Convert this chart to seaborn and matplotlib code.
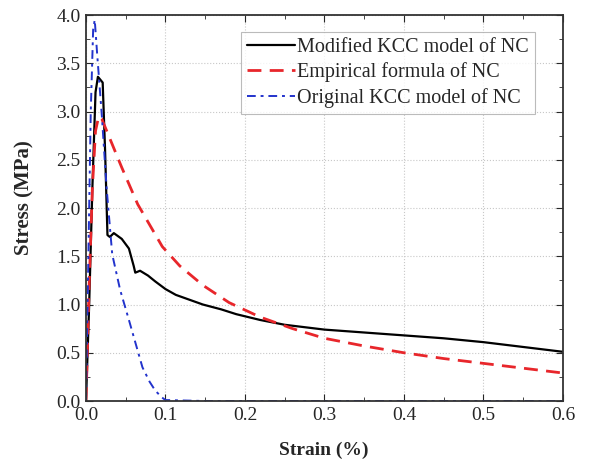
import matplotlib
matplotlib.use("Agg")
import matplotlib.pyplot as plt
import seaborn as sns
import pandas as pd
from matplotlib.ticker import MultipleLocator

# Modified KCC model of NC (black solid)
mod_strain = [0.0, 0.004, 0.008, 0.012, 0.015, 0.018, 0.021, 0.024, 0.027, 0.030, 0.035,
              0.045, 0.054, 0.060, 0.062, 0.068, 0.078, 0.087, 0.100, 0.113, 0.130,
              0.147, 0.170, 0.189, 0.219, 0.25, 0.30, 0.35, 0.40, 0.45, 0.50, 0.55, 0.60]
mod_stress = [0.0, 1.0, 2.2, 3.2, 3.36, 3.33, 3.30, 2.6, 1.72, 1.70, 1.74,
              1.68, 1.58, 1.40, 1.33, 1.35, 1.30, 1.24, 1.16, 1.10, 1.05,
              1.00, 0.95, 0.90, 0.84, 0.79, 0.74, 0.71, 0.68, 0.65, 0.61, 0.56, 0.51]

# Empirical formula of NC (red dashed)
emp_strain = [0.0, 0.004, 0.008, 0.012, 0.016, 0.020, 0.029, 0.045, 0.065, 0.096,
              0.118, 0.147, 0.180, 0.219, 0.26, 0.30, 0.35, 0.40, 0.45, 0.50, 0.55, 0.60]
emp_stress = [0.0, 1.2, 2.2, 2.8, 2.95, 2.92, 2.74, 2.42, 2.04, 1.60,
              1.40, 1.20, 1.02, 0.87, 0.75, 0.65, 0.57, 0.50, 0.44, 0.39, 0.34, 0.29]

# Original KCC model of NC (blue dash-dot)
org_strain = [0.0, 0.003, 0.006, 0.009, 0.011, 0.014, 0.020, 0.026, 0.033, 0.043,
              0.054, 0.063, 0.071, 0.080, 0.087, 0.095, 0.100, 0.15, 0.3, 0.45, 0.60]
org_stress = [0.0, 1.5, 3.0, 3.85, 3.95, 3.6, 2.95, 2.2, 1.52, 1.15,
              0.84, 0.58, 0.35, 0.20, 0.11, 0.04, 0.01, 0.0, 0.0, 0.0, 0.0]

labels = ["Modified KCC model of NC", "Empirical formula of NC", "Original KCC model of NC"]

df = pd.concat([
    pd.DataFrame({"strain": mod_strain, "stress": mod_stress, "model": labels[0]}),
    pd.DataFrame({"strain": emp_strain, "stress": emp_stress, "model": labels[1]}),
    pd.DataFrame({"strain": org_strain, "stress": org_stress, "model": labels[2]}),
])

sns.set_style("ticks")
plt.rcParams["font.family"] = ["Liberation Serif", "DejaVu Serif"]

fig = plt.figure(figsize=(5.91, 4.62), dpi=100)
ax = fig.add_axes([0.1455, 0.132, 0.807, 0.8355])

palette = {labels[0]: "black", labels[1]: "#e8262b", labels[2]: "#2233cc"}
sns.lineplot(data=df, x="strain", y="stress", hue="model", style="model",
             palette=palette, sort=False, estimator=None, ax=ax)
styles = ["-", (0, (5, 3)), (0, (4.5, 2.5, 1.5, 2.5))]
for line, lw, ls in zip(ax.lines, [1.6, 2.0, 1.4], styles):
    line.set_linewidth(lw)
    line.set_linestyle(ls)
    line.set_dash_capstyle("butt")

ax.set_xlim(0, 0.6)
ax.set_ylim(0, 4.0)
ax.xaxis.set_major_locator(MultipleLocator(0.1))
ax.xaxis.set_minor_locator(MultipleLocator(0.05))
ax.yaxis.set_major_locator(MultipleLocator(0.5))
ax.yaxis.set_minor_locator(MultipleLocator(0.25))
ax.tick_params(which="both", direction="in", top=True, right=True, labelsize=14)
ax.tick_params(which="major", length=5, pad=4)
ax.tick_params(which="minor", length=3)
ax.grid(True, which="major", linestyle=":", color="#c8c8c8", linewidth=0.8)
for sp in ax.spines.values():
    sp.set_linewidth(1.3)
    sp.set_color("#333333")

ax.set_xlabel("Strain (%)", fontsize=14, fontweight="bold")
ax.set_ylabel("Stress (MPa)", fontsize=15, fontweight="bold")
ax.xaxis.set_label_coords(0.498, -0.106)
ax.yaxis.set_label_coords(-0.108, 0.526)

handles, lbls = ax.get_legend_handles_labels()
for h, lw, ls in zip(handles, [1.6, 2.0, 1.4], styles):
    h.set_linewidth(lw)
    h.set_linestyle(ls)
leg = ax.legend(handles, lbls, loc="upper right", bbox_to_anchor=(0.941, 0.956),
                fontsize=14.5, frameon=True, fancybox=False, handlelength=2.4,
                handletextpad=0.1, borderpad=0.3, borderaxespad=0,
                labelspacing=0.27, title=None)
leg.get_frame().set_edgecolor("#aaaaaa")
leg.get_frame().set_linewidth(0.8)

fig.savefig("out.png", dpi=100)
